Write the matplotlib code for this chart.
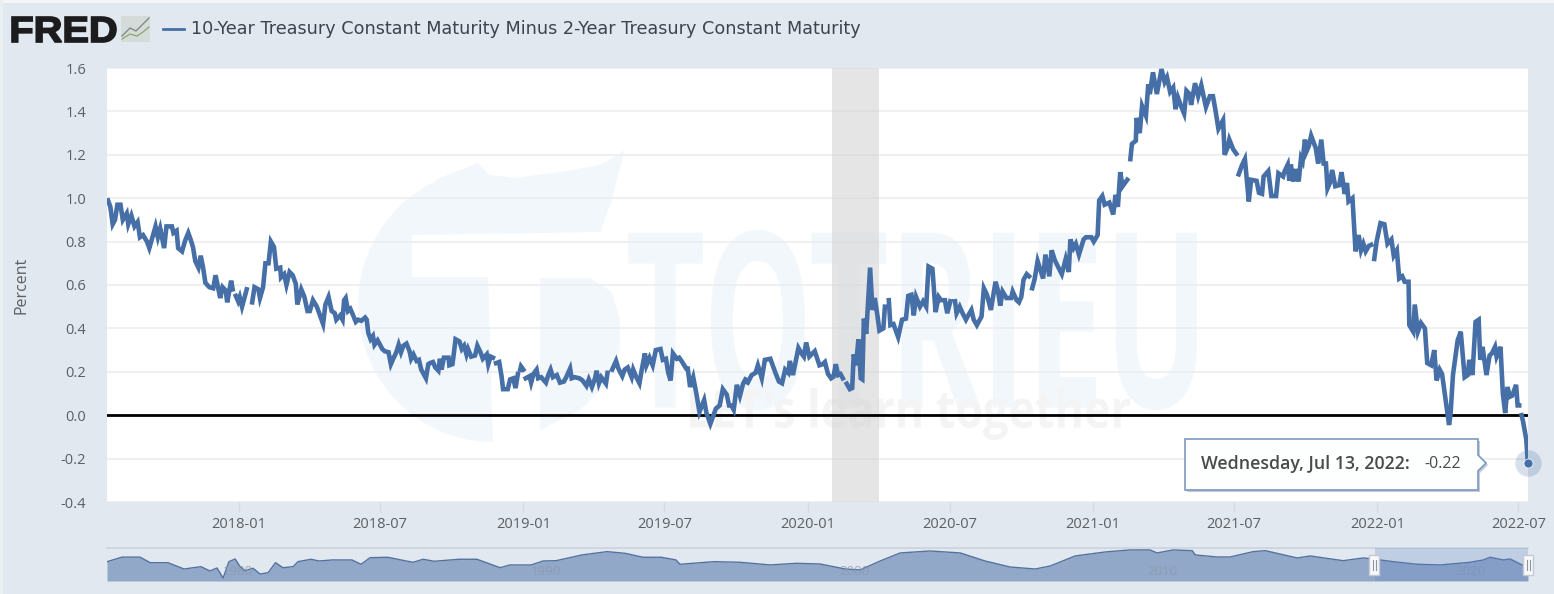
# 10y minus 2y treasury spread, FRED screenshot look

import matplotlib
matplotlib.use("Agg")

import matplotlib.pyplot as plt
import numpy as np
import pandas as pd
from matplotlib.font_manager import FontProperties
from matplotlib.patches import PathPatch, Polygon, Rectangle
from matplotlib.text import TextPath
from matplotlib.transforms import Affine2D

nan = float("nan")

# (days since 2018-01-01, percent), nan marks a hole in the line
spread_2017 = [(-168, .99), (-165, .96), (-162, .88), (-159, .90), (-156, .97), (-152, .97), (-149, .90),
               (-144, .93), (-142, .88), (-138, .92), (-134, .87), (-130, .89), (-127, .82), (-123, .83),
               (-118, .80), (-115, .77), (-111, .82), (-107, .87), (-104, .82), (-101, .86), (-96, .77),
               (-93, .87), (-86, .87), (-84, .84), (-80, .85), (-78, .77), (-73, .755), (-69, .805),
               (-65, .84), (-62, .81), (-59, .775), (-56, .71), (-52, .68), (-49, .735), (-46, .68),
               (-43, .61), (-38, .59), (-33, .585), (-30, .645), (-24, .54), (-21, .59), (-17, .575),
               (-15, .52), (-10, .62), (-8, .58), (-6, nan), (-4, .55)]
spread_2018 = [(-1, .525), (1, .545), (4, .50), (10, .58), (13, nan), (17, .52), (20, .59), (25, .58),
               (27, .54), (31, .59), (34, .70), (38, .70), (41, .80), (45, .775), (48, .675), (53, .68),
               (54, .635), (58, .65), (61, .60), (65, .66), (69, .645), (73, .605), (75, .51), (80, .58),
               (84, .545), (88, .48), (91, .48), (95, .53), (100, .50), (103, .47), (108, .42), (111, .51),
               (115, .545), (119, .48), (123, .47), (125, .44), (130, .46), (133, .44), (135, .53),
               (137, .54), (140, .48), (143, .49), (146, .465), (150, .43), (153, .44), (157, .435),
               (162, .45), (164, .44), (166, .38), (169, .35), (172, .365), (174, .325), (178, .345),
               (181, .325), (184, .305), (187, .295), (192, .29), (195, .235), (198, .26), (202, .29),
               (205, .325), (208, .29), (211, .32), (215, .33), (219, .295), (221, .26), (224, .28),
               (228, .25), (231, .255), (234, .21), (240, .17), (243, .235), (245, .24), (249, .245),
               (252, .22), (256, .205), (258, .26), (260, .21), (263, .265), (269, .265), (270, .23),
               (274, .235), (276, .29), (278, .35), (283, .34), (286, .305), (289, .32), (292, .28),
               (294, .305), (298, .27), (303, .275), (306, .32), (310, .29), (313, .26), (318, .28),
               (320, .235), (323, .27), (326, .265), (328, nan), (330, .24), (334, .245), (337, .18),
               (339, .12), (345, .12), (348, .165), (352, .17), (355, .125), (358, .19), (359, nan),
               (361, .21), (362, .225), (365, .21)]
spread_2019 = [(366, nan), (368, .17), (373, .18), (375, .15), (378, .19), (382, .21), (384, .17), (388, .175),
               (394, .15), (397, .185), (400, .21), (403, .175), (408, .185), (412, .15), (417, .155),
               (420, .175), (425, .215), (427, .17), (431, .175), (437, .17), (441, .16), (446, .135),
               (449, .165), (453, .13), (457, .17), (459, .205), (462, .147), (465, .175), (471, .145),
               (473, .195), (476, nan), (479, .21), (484, .25), (487, .215), (492, .18), (495, .21),
               (499, .22), (504, .175), (506, .21), (510, .175), (514, .147), (517, .21), (521, .285),
               (523, .23), (527, .265), (531, .23), (535, .30), (541, .305), (544, .255), (548, .26),
               (551, .195), (554, .16), (557, .285), (562, .26), (565, .265), (568, .25), (574, .215),
               (576, .215), (579, .13), (583, .175), (587, .10), (591, .015), (597, .07), (600, .01),
               (605, -.04), (609, 0), (612, .03), (617, .045), (621, .12), (626, .095), (629, .045),
               (632, .045), (635, .025), (639, .14), (643, .09), (647, .145), (650, .165), (652, nan),
               (653, .15), (658, .185), (663, .195), (666, .23), (671, .17), (675, .255), (682, .26),
               (688, .20), (693, .155), (697, .147), (701, .21), (705, .195), (707, .25), (711, .185),
               (715, .255), (718, .31), (722, .285), (725, .27), (728, .335)]
spread_2020 = [(732, .27), (739, .295), (745, .23), (749, .235), (752, .245), (756, .19), (760, .17),
               (763, .177), (766, .235), (769, .185), (772, .19), (775, .17), (778, nan), (780, .145),
               (784, .12), (787, .125), (789, .28), (792, .23), (795, .35), (798, .17), (800, .165),
               (802, .445), (805, .375), (810, .68), (813, .485), (816, .54), (819, .47), (822, .39),
               (827, .40), (829, .50), (831, nan), (834, .53), (836, .415), (840, .42), (846, .36),
               (851, .44), (856, .445), (859, .55), (863, .555), (866, .46), (869, .545), (874, .50),
               (878, .525), (882, .50), (885, .685), (890, .675), (894, .475), (898, .545), (901, .53),
               (906, .53), (909, .47), (913, .525), (916, nan), (919, .525), (921, .47), (925, .50),
               (928, .475), (933, .44), (936, .46), (940, .485), (943, .44), (947, .415), (953, .455),
               (956, .585), (960, .555), (965, .485), (971, .615), (974, .575), (977, .505), (980, .57),
               (985, .54), (991, .54), (993, .57), (998, .53), (1001, .52), (1004, .545), (1007, .625),
               (1011, .65), (1014, .64), (1016, nan), (1018, .585), (1021, .625), (1025, .71),
               (1032, .63), (1035, .74), (1040, .64), (1043, .76), (1047, .715), (1049, .70), (1056, .65),
               (1061, .72), (1065, .66), (1067, .81), (1071, .77), (1074, .79), (1078, .74), (1084, .81),
               (1087, .82), (1094, .82)]
spread_2021 = [(1097, .80), (1102, .83), (1104, .99), (1108, 1.01), (1111, .97), (1117, .98), (1122, .925),
               (1125, 1.015), (1128, .96), (1131, 1.12), (1134, 1.055), (1140, 1.085), (1142, nan),
               (1144, 1.18), (1146, 1.25), (1151, 1.265), (1152, 1.37), (1156, 1.30), (1159, 1.425),
               (1164, 1.38), (1167, 1.525), (1169, 1.48), (1173, 1.58), (1178, 1.48), (1184, 1.595),
               (1188, 1.535), (1191, 1.557), (1195, 1.49), (1199, 1.51), (1202, 1.41), (1205, 1.465),
               (1209, 1.425), (1213, 1.39), (1216, 1.495), (1220, 1.48), (1222, 1.43), (1227, 1.53),
               (1231, 1.47), (1235, 1.52), (1241, 1.42), (1246, 1.47), (1250, 1.47), (1253, 1.41),
               (1257, 1.32), (1263, 1.36), (1265, 1.20), (1269, 1.235), (1271, 1.27), (1276, 1.225),
               (1280, 1.205), (1281, nan), (1283, 1.11), (1287, 1.15), (1291, 1.18), (1296, .985),
               (1299, 1.085), (1306, 1.08), (1309, 1.025), (1313, 1.02), (1315, 1.10), (1321, 1.125),
               (1325, 1.01), (1331, 1.01), (1334, 1.115), (1340, 1.10), (1342, 1.125), (1346, 1.155),
               (1348, 1.08), (1350, 1.155), (1353, 1.077), (1356, 1.134), (1360, 1.077), (1363, 1.185),
               (1365, 1.17), (1368, 1.27), (1370, 1.215), (1373, 1.24), (1376, 1.288), (1382, 1.23),
               (1385, 1.16), (1389, 1.27), (1392, 1.16), (1395, 1.16), (1397, 1.045), (1400, 1.07),
               (1403, 1.13), (1407, 1.055), (1412, 1.06), (1415, 1.12), (1419, 1.02), (1422, 1.07),
               (1424, .985), (1429, 1.0), (1433, .755), (1437, .83), (1440, .76), (1443, .79),
               (1446, .755), (1450, .78), (1453, .785), (1455, nan)]
spread_2022 = [(1457, .72), (1460, .80), (1465, .885), (1470, .88), (1474, .79), (1479, .81), (1482, .735),
               (1486, .76), (1489, .63), (1493, .64), (1496, .615), (1501, .615), (1502, .415),
               (1507, .385), (1509, .51), (1513, .385), (1517, .425), (1522, .40), (1525, .24),
               (1530, .23), (1534, .30), (1537, .16), (1541, .21), (1544, .19), (1548, .085),
               (1553, -.045), (1555, .01), (1558, .185), (1564, .345), (1568, .385), (1573, .175),
               (1577, .185), (1579, .255), (1583, .185), (1587, .43), (1591, .44), (1593, .255),
               (1596, .315), (1601, .185), (1605, .275), (1608, .285), (1612, .315), (1614, .27),
               (1619, .315), (1622, .10), (1625, .01), (1628, .13), (1631, .085), (1634, .09),
               (1639, .14), (1641, .045), (1643, .045), (1645, nan), (1646, 0), (1648, -.03),
               (1650, -.07), (1652, -.11), (1653, -.16), (1654, -.22)]

# whole history in the navigator strip (year, percent)
nav_points = [(1976.4, .79), (1976.89, 1.6), (1977.47, 1.6), (1977.8, .62), (1978.38, .62), (1978.9, -.49),
              (1979.45, -.08), (1979.74, -.84), (1979.97, -.31), (1980.17, -2.07), (1980.36, .8),
              (1980.56, 1.27), (1980.72, -.08), (1980.88, -.79), (1981.14, -.36), (1981.37, -1.37),
              (1981.63, -1.14), (1981.87, .62), (1982.11, -.26), (1982.44, -.08), (1982.6, .8),
              (1983.02, 1.22), (1983.28, .92), (1983.71, 1.1), (1984.35, 1.1), (1984.65, .34),
              (1984.94, 1.5), (1985.52, 1.57), (1986.11, .92), (1986.34, .69), (1986.66, 1.22),
              (1987.02, .87), (1987.83, 1.22), (1988.41, 1.22), (1989.16, -.26), (1989.48, .22),
              (1990.17, .22), (1990.56, .92), (1990.98, .97), (1991.82, 1.98), (1992.63, 2.56),
              (1993.22, 2.27), (1993.8, 1.57), (1994.39, 1.57), (1994.87, 1.1), (1995, .34),
              (1996.11, .8), (1996.95, .69), (1997.93, .22), (1998.77, .51), (1999.55, .39),
              (2000.36, -.49), (2000.85, -.66), (2001.5, .92), (2002.15, 2.33), (2003.12, 2.68),
              (2004.1, 2.33), (2004.9, .92), (2005.72, -.14), (2006.53, -.49), (2007.02, .04),
              (2007.83, 1.8), (2008.8, 2.5), (2009.61, 2.86), (2010.26, 2.86), (2010.49, 2.33),
              (2011.01, 2.86), (2011.63, 2.73), (2011.73, 1.98), (2012.44, 1.62), (2012.86, 1.62),
              (2013.61, 2.56), (2014, 2.73), (2015.04, 1.45), (2015.46, 1.8), (2016.53, .97),
              (2017.18, 1.45), (2017.5, 1.27), (2018.15, .8), (2018.93, .34), (2019.68, .22),
              (2020.65, .69), (2021.08, 1.1), (2021.3, 1.57), (2021.73, 1.1), (2021.95, 1.27),
              (2022.34, .22), (2022.53, -.08)]

date_ticks = ["2018-01", "2018-07", "2019-01", "2019-07", "2020-01", "2020-07", "2021-01", "2021-07", "2022-01", "2022-07"]
y_ticks = [-0.4, -0.2, 0.0, 0.2, 0.4, 0.6, 0.8, 1.0, 1.2, 1.4, 1.6]
nav_years = [1980, 1990, 2000, 2010, 2020]
recession = ["2020-02-01", "2020-04-01"]
last_date = "2022-07-13"
last_value = -0.22
series_name = "10-Year Treasury Constant Maturity Minus 2-Year Treasury Constant Maturity"

W, H = 1554, 594
BG = "#e1e8ef"
BLUE = "#456fa6"
TXT = "#5c5f63"
FONT = "Open Sans"

fig = plt.figure(figsize=(W / 100, H / 100), dpi=100, facecolor=BG)
# pixels of the picture, y going down
px = Affine2D().scale(1 / W, -1 / H).translate(0, 1) + fig.transFigure


def box(left, top, right, bottom):
    return [left / W, 1 - bottom / H, (right - left) / W, (bottom - top) / H]


def fit_text(ax, s, x0, x1, y0, y1, color, weight="bold", family=FONT, zorder=0.2, stroke=0):
    # stretch a text outline into a pixel box
    path = TextPath((0, 0), s, size=100, prop=FontProperties(family=family, weight=weight))
    e = path.get_extents()
    tr = Affine2D().translate(-e.x0, -e.y0).scale((x1 - x0) / e.width, -(y1 - y0) / e.height).translate(x0, y1)
    ax.add_patch(PathPatch(path, facecolor=color, edgecolor=color if stroke else "none", lw=stroke,
                           transform=tr + px, zorder=zorder, clip_on=False))


def to_dates(days):
    return pd.Timestamp("2018-01-01") + pd.to_timedelta(np.asarray(days), unit="D")


# page edges
fig.add_artist(Rectangle((0, 0), W, 3, transform=px, color="#f3f5f7", lw=0))
fig.add_artist(Rectangle((0, 0), 3, H, transform=px, color="#eaeff4", lw=0))

ax = fig.add_axes(box(107, 68, 1528, 502), facecolor="white")

points = spread_2017 + spread_2018 + spread_2019 + spread_2020 + spread_2021 + spread_2022
days = [p[0] for p in points]
values = [p[1] for p in points]
dates = to_dates(days)

ax.set_xlim(to_dates([-169.3])[0], to_dates([1654.3])[0])
ax.set_ylim(-0.4, 1.6)

# watermark behind everything
wm = "#f2f7fc"
t = np.radians(np.linspace(90, 245, 30))
arc = list(zip(493 + 135 * np.cos(t), 305 + 137 * np.sin(t)))
flame = [(440, 178), (478, 163), (490, 175), (515, 178), (560, 172), (600, 165), (625, 150), (618, 175), (612, 200),
         (600, 232), (412, 235), (412, 277), (488, 277)]
ax.add_patch(Polygon(arc + flame, closed=True, transform=px, facecolor=wm, edgecolor="none", zorder=0.2))
ax.add_patch(Polygon([(540, 278), (590, 278), (612, 292), (620, 320), (620, 350), (605, 385), (580, 410), (540, 430)],
                     closed=True, transform=px, facecolor=wm, edgecolor="none", zorder=0.2))
fit_text(ax, "TOTRIEU", 628, 1197, 230, 410, wm)
fit_text(ax, "LET's learn together", 690, 1130, 388, 440, "#f4f4f4")

ax.set_axisbelow(True)
ax.grid(axis="y", color="#ebecee", lw=1.1)
ax.axvspan(pd.Timestamp(recession[0]), pd.Timestamp(recession[1]), color="#d4d4d4", alpha=0.6, lw=0, zorder=1.5)
ax.axhline(0, color="black", lw=2.0, zorder=2)
ax.plot(dates, values, color=BLUE, lw=3.3, solid_joinstyle="miter", zorder=3)

ax.set_yticks(y_ticks)
ax.set_yticklabels([f"{v:.1f}" for v in y_ticks], fontsize=10.5, color=TXT, family=FONT)
ax.set_xticks([pd.Timestamp(d + "-01") for d in date_ticks])
ax.set_xticklabels(date_ticks, fontsize=10.5, color=TXT, family=FONT)
ax.tick_params(axis="y", length=0, pad=15)
ax.tick_params(axis="x", length=7, width=1, color="#d3dbe6", pad=4)
for s in ax.spines.values():
    s.set_visible(False)
ax.set_ylabel("Percent", fontsize=11.5, color=TXT, family=FONT)
ax.yaxis.set_label_coords(-0.0545, 0.5)

# hover marker and tooltip
ax.plot([pd.Timestamp(last_date)], [last_value], "o", ms=19, color="#456fa6", alpha=0.22, mew=0, zorder=4, clip_on=False)
ax.plot([pd.Timestamp(last_date)], [last_value], "o", ms=6.5, color=BLUE, mec="white", mew=0.5, zorder=5, clip_on=False)
outline = [(1185, 439), (1478, 439), (1478, 455), (1486, 463), (1478, 471), (1478, 490), (1185, 490)]
ax.add_patch(Polygon([(x + 2, y + 2) for x, y in outline], transform=px, facecolor="#c3ccd8", edgecolor="none", zorder=5.5, clip_on=False))
ax.add_patch(Polygon(outline, transform=px, facecolor="#fdfefe", edgecolor="#7d98c0", lw=1.2, zorder=6, clip_on=False))
ax.text(1201, 464, "Wednesday, Jul 13, 2022:", transform=px, fontsize=12.8, fontweight="semibold", family=FONT,
        color="#4a4a4a", va="center", ha="left", zorder=7)
ax.text(1424, 464, f"{last_value:.2f}", transform=px, fontsize=11.5, family=FONT, color="#4a4a4a", va="center", ha="left", zorder=7)

# header: logo and legend
fit_text(ax, "FRED", 12, 116, 17, 42, "#1c1c1e", family="Liberation Sans", zorder=8, stroke=1.2)
ax.add_patch(Rectangle((121, 16), 29, 26, transform=px, facecolor="#d4dbd8", edgecolor="none", zorder=7, clip_on=False))
ax.plot([122, 130, 136, 142, 149], [36, 28, 31, 25, 18], transform=px, color="#7a8288", lw=0.9, zorder=8, clip_on=False)
ax.plot([122, 130, 137, 143, 149], [39, 34, 36, 32, 27], transform=px, color="#8da76a", lw=0.9, zorder=8, clip_on=False)
ax.plot([163, 184], [29, 29], transform=px, color=BLUE, lw=2, zorder=8, clip_on=False)
ax.text(191, 29, series_name, transform=px, fontsize=12.7, family="DejaVu Sans", color="#3d4450", va="center", ha="left", zorder=8)

# navigator strip
nav = fig.add_axes(box(107, 548, 1528, 581), facecolor="none")
nav_x = [p[0] for p in nav_points]
nav_y = [p[1] for p in nav_points]
nav.set_xlim(1976.4, 2022.53)
nav.set_ylim(-2.6, 3.2)
nav.fill_between(nav_x, nav_y, -2.6, color="#92a8c9", lw=0, zorder=2)
nav.plot(nav_x, nav_y, color="#54729f", lw=1, zorder=3)
nav.axvspan(2017.55, 2022.53, color="#5f82c4", alpha=0.25, lw=0, zorder=4)
for y in nav_years:
    nav.annotate(str(y), (y, -0.9), xytext=(5, 0), textcoords="offset pixels", fontsize=9.5, family=FONT, color="#8b99ad", alpha=0.8,
                 va="center", ha="left", zorder=3.5)
nav.set_xticks([])
nav.set_yticks([])
for name, s in nav.spines.items():
    s.set_visible(name == "top")
    s.set_color("#ccd3db")
    s.set_linewidth(1.2)
for hx in [1374, 1528]:
    nav.add_patch(Rectangle((hx - 5, 555), 10, 20, transform=px, facecolor="#f7f8fa", edgecolor="#c4cad2", lw=1, zorder=6, clip_on=False))
    nav.plot([hx - 1.5, hx - 1.5], [560, 570], transform=px, color="#8c95a0", lw=0.8, zorder=7, clip_on=False)
    nav.plot([hx + 1.5, hx + 1.5], [560, 570], transform=px, color="#8c95a0", lw=0.8, zorder=7, clip_on=False)

fig.savefig("out.png", dpi=100, facecolor=BG)
